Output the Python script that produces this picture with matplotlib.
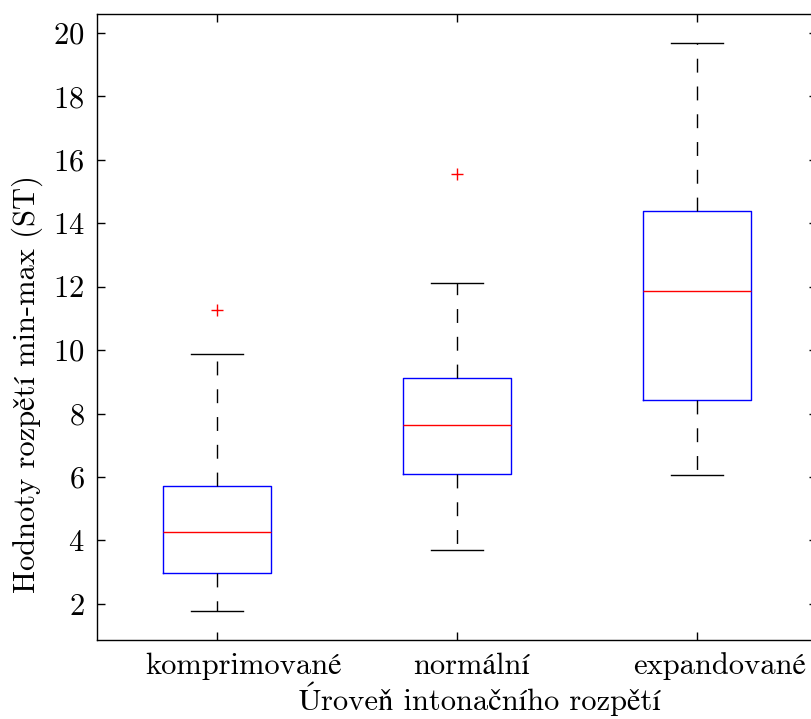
import matplotlib
matplotlib.use("Agg")
import matplotlib.pyplot as plt
from matplotlib.transforms import ScaledTranslation

# cmr10 has no accented letters; STIX fills them in with a lighter serif
plt.rcParams["font.family"] = ["cmr10", "STIXGeneral", "DejaVu Serif"]
plt.rcParams["mathtext.fontset"] = "cm"
plt.rcParams["axes.unicode_minus"] = False
plt.rcParams["axes.formatter.use_mathtext"] = True

categories = ["komprimované", "normální", "expandované"]
whis_lo = [1.78, 3.70, 6.07]
q1 = [2.98, 6.10, 8.43]
medians = [4.27, 7.64, 11.87]
q3 = [5.72, 9.12, 14.39]
whis_hi = [9.88, 12.12, 19.69]
outliers = [[11.27], [15.56], []]

stats = []
for i, name in enumerate(categories):
    stats.append({
        "label": name,
        "whislo": whis_lo[i],
        "q1": q1[i],
        "med": medians[i],
        "q3": q3[i],
        "whishi": whis_hi[i],
        "fliers": outliers[i],
    })

fig = plt.figure(figsize=(8.11, 7.19), dpi=100)
ax = fig.add_axes([97 / 811, 79 / 719, 720 / 811, 626 / 719])

ax.bxp(stats, positions=[1, 2, 3], widths=0.446,
       boxprops=dict(color="blue", linewidth=1.0),
       medianprops=dict(color="red", linewidth=1.0),
       whiskerprops=dict(color="black", linestyle=(0, (10, 10)), linewidth=1.0),
       capprops=dict(color="black", linewidth=1.0),
       flierprops=dict(marker="+", markeredgecolor="red", markersize=9,
                       markeredgewidth=1.0, linestyle="none"),
       capwidths=0.22)

ax.set_xlim(0.5, 3.5)
ax.set_ylim(0.86, 20.6)
ax.set_yticks(range(2, 21, 2))
ax.set_xticks([1, 2, 3])
ax.set_xticklabels(categories)
ax.tick_params(direction="in", length=6, width=1, labelsize=22, top=True, right=True, pad=9)
for s in ax.spines.values():
    s.set_linewidth(1.0)

# the original export drifts the category labels a bit to the right
shifts_px = [27, 15, 23]
for lab, dx in zip(ax.get_xticklabels(), shifts_px):
    lab.set_transform(lab.get_transform() + ScaledTranslation(dx / 100, 0, fig.dpi_scale_trans))

ax.set_ylabel("Hodnoty rozpětí min-max (ST)", fontsize=22)
ax.yaxis.set_label_coords(-0.075, 0.409)
ax.set_xlabel("Úroveň intonačního rozpětí", fontsize=22)
ax.xaxis.set_label_coords(0.532, -0.066)

fig.savefig("out.png", dpi=100)
